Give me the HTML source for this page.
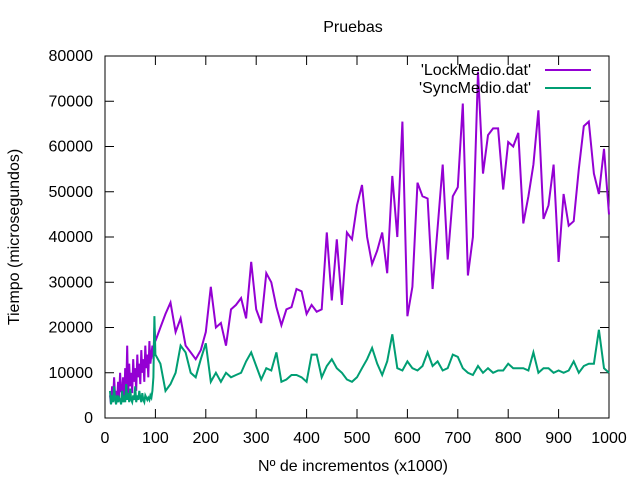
<!DOCTYPE html>
<html><head><meta charset="utf-8"><style>
body{margin:0;background:#fff}
svg{font-family:"Liberation Sans",sans-serif;font-size:16px}
</style></head><body>
<svg id="c" width="640" height="480" xmlns="http://www.w3.org/2000/svg"></svg>
<script>
const xs=[10,12,14,16,18,20,22,24,26,28,30,32,34,36,38,40,42,44,46,48,50,52,54,56,58,60,62,64,66,68,70,72,74,76,78,80,82,84,86,88,90,92,94,96,98,100,110,120,130,140,150,160,170,180,190,200,210,220,230,240,250,260,270,280,290,300,310,320,330,340,350,360,370,380,390,400,410,420,430,440,450,460,470,480,490,500,510,520,530,540,550,560,570,580,590,600,610,620,630,640,650,660,670,680,690,700,710,720,730,740,750,760,770,780,790,800,810,820,830,840,850,860,870,880,890,900,910,920,930,940,950,960,970,980,990,1000];
const lockVals=[5000,3000,7000,4000,9000,5000,6000,3500,8000,4500,10000,6000,5500,9000,4000,11000,6000,16000,5000,12000,7000,10000,5500,13000,8000,11000,6000,14000,9000,12000,7500,15000,10000,13000,8000,16000,11000,14000,9000,17000,12000,14000,16000,13000,20000,17000,20000,23000,25500,19000,22000,16000,14500,13000,15000,19000,29000,20000,21000,16000,24000,25000,26500,22000,34500,24000,21000,32000,30000,24500,20500,24000,24500,28500,28000,23000,25000,23500,24000,41000,26000,39500,25000,41000,39500,47000,51500,40000,34000,37000,41000,32000,53500,40000,65500,22500,29000,52000,49000,48500,28500,42000,56000,35000,49000,51000,69500,31500,40000,76500,54000,62500,64000,64000,50500,61000,60000,63000,43000,49000,56000,68000,44000,47000,56000,34500,49500,42500,43500,55000,64500,65500,54000,49500,59500,45000];
const syncVals=[6000,3000,5000,3500,7000,4000,3000,5000,3500,4500,4000,3000,6000,3500,5000,3500,7500,4000,5500,3500,6500,4000,3500,5000,4000,7000,3500,5000,4000,6000,4500,3500,5500,4000,3500,5000,4500,4000,4500,4000,5000,4500,6000,9000,22500,14000,12000,6000,7500,10000,16000,14500,10000,9000,13000,16500,8000,10000,8000,10000,9000,9500,10000,12500,14500,11500,8500,11000,10500,14500,8000,8500,9500,9500,9000,8000,14000,14000,9000,11500,13000,11000,10000,8500,8000,9000,11000,13000,15500,12000,9500,12500,18500,11000,10500,12500,11000,10500,11500,14500,11500,12500,10500,11000,14000,13500,11000,10000,9500,11500,10000,11000,10000,10500,10500,12000,11000,11000,11000,10500,14500,10000,11000,11000,10000,10500,10000,10500,12500,10000,11500,12000,12000,19500,11000,10000];
const yTicks=[0,10000,20000,30000,40000,50000,60000,70000,80000];
const xTicks=[0,100,200,300,400,500,600,700,800,900,1000];
const L=105,R=609,T=56,B=418;
const sx=v=>L+(v/1000)*(R-L), sy=v=>B-(v/80000)*(B-T);
const svg=document.getElementById('c');const NS='http://www.w3.org/2000/svg';
function mk(t,a,txt){const e=document.createElementNS(NS,t);for(const k in a)e.setAttribute(k,a[k]);if(txt!==undefined)e.textContent=txt;svg.appendChild(e);return e;}
yTicks.forEach(v=>{const y=sy(v);
const g=mk('path',{d:`M${L} ${y}h9M${R} ${y}h-9`,stroke:'#000','stroke-width':1});


const t=mk('text',{x:93,y:y+5,'text-anchor':'end'},String(v));

});
xTicks.forEach(v=>{const x=sx(v);
const g=mk('path',{d:`M${x} ${B}v-9M${x} ${T}v9`,stroke:'#000','stroke-width':1});


const t=mk('text',{x:x,y:443,'text-anchor':'middle'},String(v));

});
const fr=mk('rect',{x:L,y:T,width:R-L,height:B-T,fill:'none',stroke:'#000','stroke-width':1});


function line(vals,col,name){const d=vals.map((v,i)=>(i?'L':'M')+sx(xs[i]).toFixed(1)+' '+sy(v).toFixed(1)).join('');
const p=mk('path',{d:d,fill:'none',stroke:col,'stroke-width':2});

}
line(lockVals,'#9400d3','series-lock');
line(syncVals,'#009e73','series-sync');
const t1=mk('text',{x:353,y:32,'text-anchor':'middle'},'Pruebas');


const t2=mk('text',{x:353,y:471,'text-anchor':'middle'},'Nº de incrementos (x1000)');


const t3=mk('text',{x:19,y:237,'text-anchor':'middle',transform:'rotate(-90 19 237)'},'Tiempo (microsegundos)');


const l1=mk('text',{x:531,y:75,'text-anchor':'end'},"'LockMedio.dat'");


const s1=mk('path',{d:'M545 70H591',stroke:'#9400d3','stroke-width':2});


const l2=mk('text',{x:531,y:93,'text-anchor':'end'},"'SyncMedio.dat'");


const s2=mk('path',{d:'M545 88H591',stroke:'#009e73','stroke-width':2});


</script>
</body></html>
